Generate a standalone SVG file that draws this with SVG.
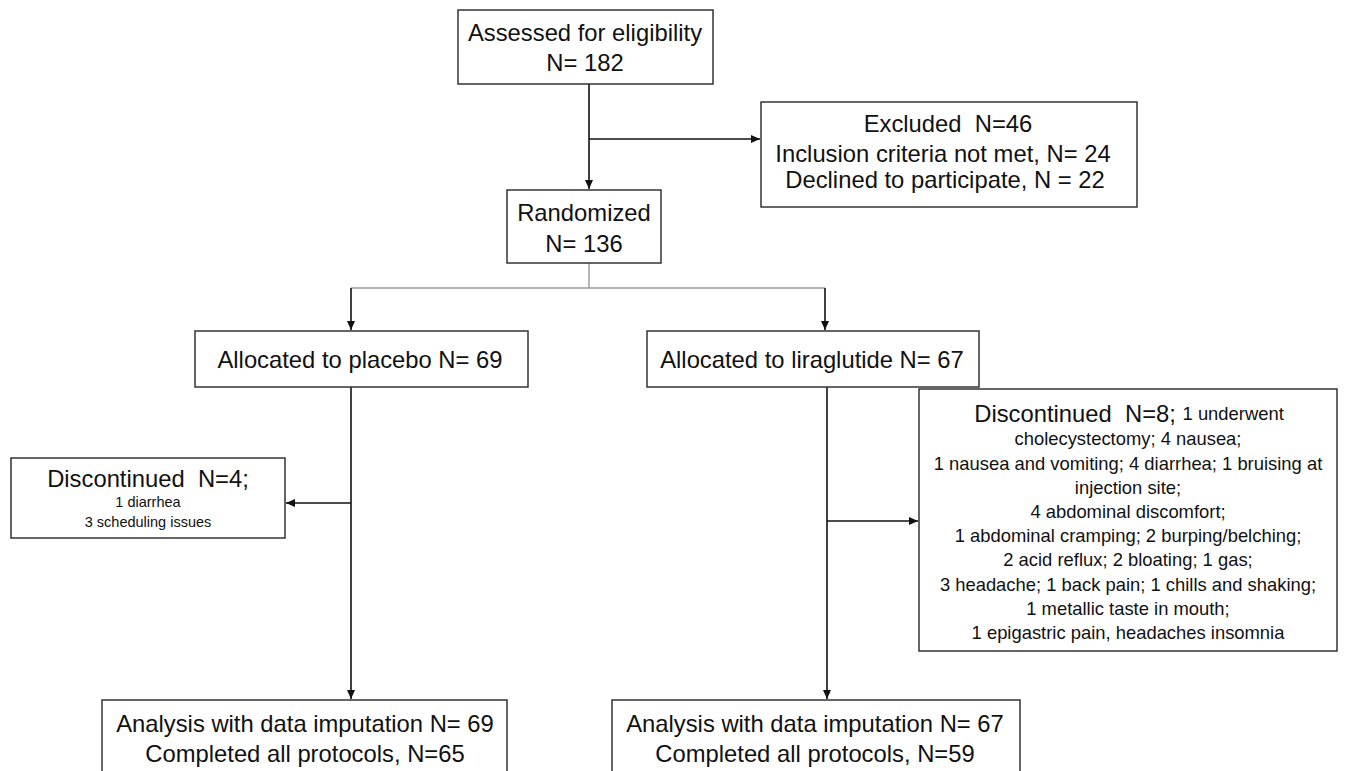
<svg xmlns="http://www.w3.org/2000/svg" width="1347" height="771" viewBox="0 0 1347 771">
<defs>
<marker id="ah" markerWidth="9" markerHeight="8" refX="9" refY="4" orient="auto" markerUnits="userSpaceOnUse">
<path d="M0,0 L9,4 L0,8 Z" fill="#111"/>
</marker>
<style>
.box{fill:#fff;stroke:#333;stroke-width:1.5}
.ln{fill:none;stroke:#111;stroke-width:1.6}
.gl{fill:none;stroke:#999;stroke-width:1.4}
text{font-family:"Liberation Sans",Arial,sans-serif;fill:#111;text-anchor:middle;dominant-baseline:central}
.t{font-size:23.8px}
.s{font-size:18.4px}
.xs{font-size:14.5px}
</style>
</defs>
<rect width="1347" height="771" fill="#fff"/>
<g id="connectors">
<line class="ln" x1="589" y1="84" x2="589" y2="189" marker-end="url(#ah)"/>
<line class="ln" x1="589" y1="139" x2="760" y2="139" marker-end="url(#ah)"/>
<line class="gl" x1="589" y1="263" x2="589" y2="288"/>
<line class="gl" x1="351" y1="288" x2="825" y2="288"/>
<line class="ln" x1="351" y1="288" x2="351" y2="330" marker-end="url(#ah)"/>
<line class="ln" x1="825" y1="288" x2="825" y2="330" marker-end="url(#ah)"/>
<line class="ln" x1="351" y1="387" x2="351" y2="699" marker-end="url(#ah)"/>
<line class="ln" x1="351" y1="503" x2="286" y2="503" marker-end="url(#ah)"/>
<line class="ln" x1="827" y1="387" x2="827" y2="699" marker-end="url(#ah)"/>
<line class="ln" x1="827" y1="521" x2="918" y2="521" marker-end="url(#ah)"/>
</g>
<g id="assessed">
<rect class="box" x="458" y="10" width="255" height="74"/>
<text class="t" x="585" y="32">Assessed for eligibility</text>
<text class="t" x="585" y="62">N= 182</text>
</g>
<g id="excluded">
<rect class="box" x="761" y="102" width="376" height="105"/>
<text class="t" x="948" y="123" xml:space="preserve">Excluded  N=46</text>
<text class="t" x="943" y="153">Inclusion criteria not met, N= 24</text>
<text class="t" x="945" y="179">Declined to participate, N = 22</text>
</g>
<g id="randomized">
<rect class="box" x="507" y="190" width="154" height="73"/>
<text class="t" x="584" y="212">Randomized</text>
<text class="t" x="584" y="243">N= 136</text>
</g>
<g id="placebo">
<rect class="box" x="195" y="331" width="333" height="56"/>
<text class="t" x="360" y="359">Allocated to placebo N= 69</text>
</g>
<g id="liraglutide">
<rect class="box" x="647" y="331" width="332" height="56"/>
<text class="t" x="812" y="359">Allocated to liraglutide N= 67</text>
</g>
<g id="disc-placebo">
<rect class="box" x="11" y="458" width="274" height="80"/>
<text class="t" x="148" y="478" xml:space="preserve">Discontinued  N=4;</text>
<text class="xs" x="148" y="502">1 diarrhea</text>
<text class="xs" x="148" y="522">3 scheduling issues</text>
</g>
<g id="disc-lira">
<rect class="box" x="919" y="389" width="418" height="262"/>
<text x="1129" y="413"><tspan class="t" xml:space="preserve">Discontinued  N=8; </tspan><tspan class="s">1 underwent</tspan></text>
<text class="s" x="1128" y="438">cholecystectomy; 4 nausea;</text>
<text class="s" x="1128" y="463">1 nausea and vomiting; 4 diarrhea; 1 bruising at</text>
<text class="s" x="1128" y="487">injection site;</text>
<text class="s" x="1128" y="511">4 abdominal discomfort;</text>
<text class="s" x="1128" y="535">1 abdominal cramping; 2 burping/belching;</text>
<text class="s" x="1128" y="559">2 acid reflux; 2 bloating; 1 gas;</text>
<text class="s" x="1128" y="584">3 headache; 1 back pain; 1 chills and shaking;</text>
<text class="s" x="1128" y="608">1 metallic taste in mouth;</text>
<text class="s" x="1128" y="632">1 epigastric pain, headaches insomnia</text>
</g>
<g id="analysis-placebo">
<rect class="box" x="102" y="700" width="405" height="80"/>
<text class="t" x="305" y="723">Analysis with data imputation N= 69</text>
<text class="t" x="305" y="753">Completed all protocols, N=65</text>
</g>
<g id="analysis-lira">
<rect class="box" x="612" y="700" width="408" height="80"/>
<text class="t" x="815" y="723">Analysis with data imputation N= 67</text>
<text class="t" x="815" y="753">Completed all protocols, N=59</text>
</g>
</svg>
